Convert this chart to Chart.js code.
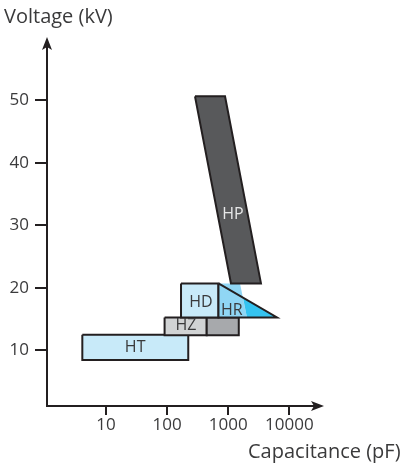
<!DOCTYPE html>
<html>
<head>
<meta charset="utf-8">
<script src="https://cdn.jsdelivr.net/npm/chart.js@4/dist/chart.umd.min.js"></script>
<style>
  body { margin: 0; background: #fff; }
  canvas { display: block; }
</style>
</head>
<body>
<canvas id="grafico" width="407" height="466"></canvas>
<script>
// Ticks de los ejes
const ticksCapacidad = [10, 100, 1000, 10000];
const ticksVoltaje = [10, 20, 30, 40, 50];

// Zonas (capacitancia pF, voltaje kV), vértices del polígono
const htCap = [4.1, 222, 222, 4.1];
const htKv  = [12.5, 12.5, 8.45, 8.45];

const hzCap = [91, 445, 445, 91];
const hzKv  = [15.25, 15.25, 12.4, 12.4];

const hz2Cap = [445, 1490, 1490, 445];
const hz2Kv  = [15.25, 15.25, 12.4, 12.4];

const hdCap = [169, 693, 693, 169];
const hdKv  = [20.7, 20.7, 15.25, 15.25];

const hrClaroCap = [693, 1560, 2030, 693];
const hrClaroKv  = [20.7, 20.7, 15.25, 15.25];

const hrCianCap = [1750, 6300, 2030];
const hrCianKv  = [18.35, 15.25, 15.25];

const hrBordeCap = [693, 6300, 693];
const hrBordeKv  = [20.7, 15.25, 15.25];

const hpCap = [286, 887, 3440, 1110];
const hpKv  = [50.6, 50.6, 20.7, 20.7];

// Etiquetas de cada zona
const etiquetas = ['HT', 'HZ', 'HD', 'HR', 'HP'];
const etiquetaCap = [30, 204, 359, 1150, 1200];
const etiquetaKv  = [10.5, 13.9, 17.7, 16.3, 31.8];

const TINTA = '#231f20';
const FUENTE = '"Open Sans", "Liberation Sans", sans-serif';

function poligono(cap, kv) {
    const pts = cap.map((c, i) => ({ x: c, y: kv[i] }));
    pts.push(pts[0]); // cerrar
    return pts;
}

function zona(cap, kv, relleno, borde) {
    return {
        data: poligono(cap, kv),
        showLine: true,
        fill: relleno ? 'shape' : false,
        backgroundColor: relleno || 'rgba(0,0,0,0)',
        borderColor: borde ? TINTA : 'rgba(0,0,0,0)',
        borderWidth: borde ? 2 : 0,
        borderJoinStyle: 'miter',
        pointRadius: 0,
        tension: 0
    };
}

const datasets = [
    zona(htCap, htKv, '#c8eaf9', true),
    zona(hzCap, hzKv, '#d1d3d4', true),
    zona(hz2Cap, hz2Kv, '#a7a9ac', true),
    zona(hdCap, hdKv, '#c8eaf9', true),
    zona(hrClaroCap, hrClaroKv, '#90d6f4', false),
    zona(hrCianCap, hrCianKv, '#35c3f0', false),
    zona(hrBordeCap, hrBordeKv, null, true),
    zona(hpCap, hpKv, '#58595b', true)
];
datasets.forEach((d, i) => { d.order = -i; }); // el último queda encima

const extras = {
    id: 'extras',
    afterDatasetsDraw(chart) {
        const { ctx, chartArea, scales } = chart;
        ctx.save();

        // flechas de los ejes
        ctx.fillStyle = TINTA;
        const xa = chartArea.left, ya = chartArea.top - 9;
        ctx.beginPath();
        ctx.moveTo(xa, ya);
        ctx.lineTo(xa - 5, ya + 13);
        ctx.lineTo(xa, ya + 10);
        ctx.lineTo(xa + 5, ya + 13);
        ctx.closePath();
        ctx.fill();
        const xb = chartArea.right + 8, yb = chartArea.bottom;
        ctx.beginPath();
        ctx.moveTo(xb, yb);
        ctx.lineTo(xb - 13, yb - 5);
        ctx.lineTo(xb - 10, yb);
        ctx.lineTo(xb - 13, yb + 5);
        ctx.closePath();
        ctx.fill();

        // etiquetas de zonas
        ctx.font = '16px ' + FUENTE;
        ctx.textAlign = 'center';
        ctx.textBaseline = 'middle';
        etiquetas.forEach((t, i) => {
            ctx.fillStyle = t === 'HP' ? '#e6e7e8' : '#3a3a3b';
            ctx.fillText(t, scales.x.getPixelForValue(etiquetaCap[i]), scales.y.getPixelForValue(etiquetaKv[i]));
        });

        // títulos de ejes
        ctx.fillStyle = '#3a3a3b';
        ctx.font = '20px ' + FUENTE;
        ctx.textAlign = 'left';
        ctx.textBaseline = 'alphabetic';
        ctx.fillText('Voltage (kV)', 4, 23);
        ctx.fillText('Capacitance (pF)', 248, 458);
        ctx.restore();
    }
};

new Chart(document.getElementById('grafico'), {
    type: 'scatter',
    data: { datasets: datasets },
    options: {
        responsive: false,
        animation: false,
        layout: { padding: { left: 0, top: 46, right: 91, bottom: 0 } },
        plugins: { legend: { display: false }, tooltip: { enabled: false } },
        scales: {
            x: {
                type: 'logarithmic',
                min: 1.083,
                max: 27350,
                afterBuildTicks: s => { s.ticks = ticksCapacidad.map(v => ({ value: v })); },
                afterFit: s => { s.height = 60; },
                ticks: {
                    callback: v => String(v),
                    color: '#3a3a3b',
                    font: { family: FUENTE, size: 17 },
                    padding: 0,
                    maxRotation: 0,
                    autoSkip: false
                },
                grid: { drawOnChartArea: false, drawTicks: true, tickLength: 9, color: TINTA, lineWidth: 2 },
                border: { display: true, color: TINTA, width: 2 }
            },
            y: {
                min: 1.1,
                max: 58.65,
                afterBuildTicks: s => { s.ticks = ticksVoltaje.map(v => ({ value: v })); },
                afterFit: s => { s.width = 47; },
                ticks: {
                    callback: v => String(v),
                    color: '#3a3a3b',
                    font: { family: FUENTE, size: 17 },
                    padding: 6,
                    autoSkip: false
                },
                grid: { drawOnChartArea: false, drawTicks: true, tickLength: 12, color: TINTA, lineWidth: 2 },
                border: { display: true, color: TINTA, width: 2 }
            }
        }
    },
    plugins: [extras]
});
</script>
</body>
</html>
